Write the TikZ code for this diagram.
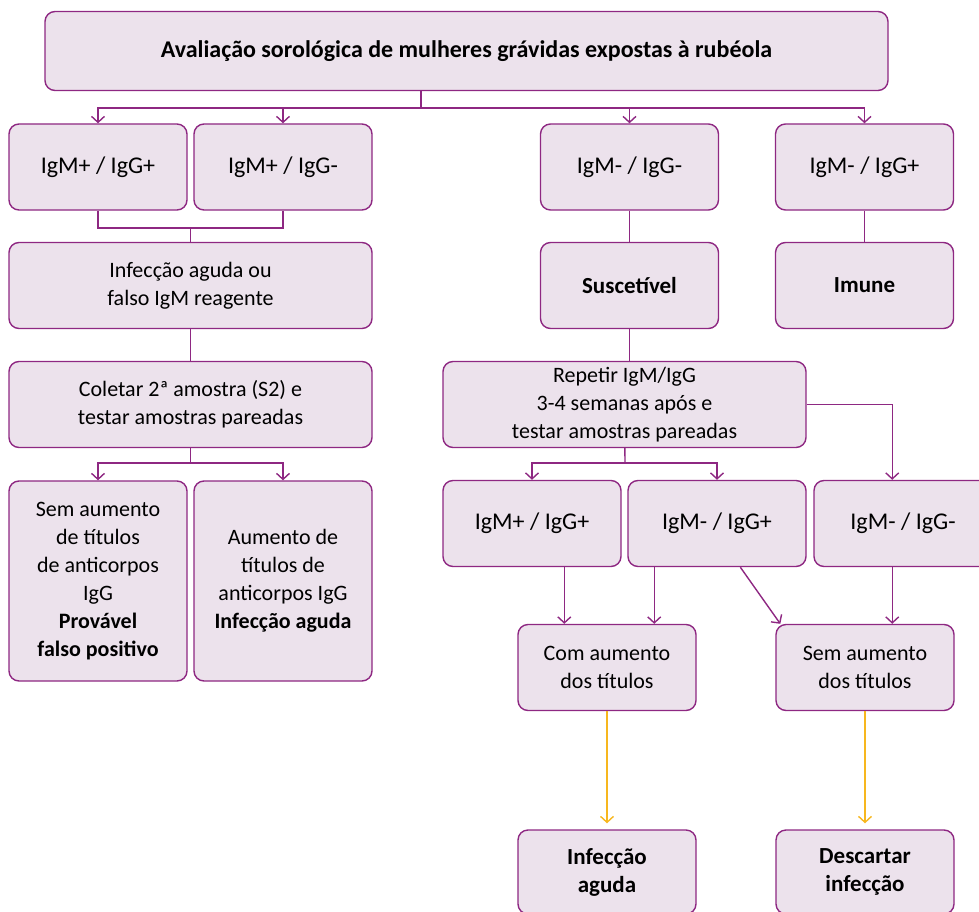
\documentclass[tikz,border=0pt]{standalone}
\usepackage{fontspec}
\setmainfont{Carlito}
\usetikzlibrary{arrows.meta,calc}
\definecolor{roxo}{RGB}{142,40,130}
\definecolor{lilas}{RGB}{236,226,236}
\definecolor{amarelo}{RGB}{247,183,30}

\begin{document}
\begin{tikzpicture}[x=1pt, y=-1pt,
  caixa/.style={draw=roxo, fill=lilas, line width=1.4pt, rounded corners=10pt,
    align=center, inner sep=0pt, font=\fontsize{22}{28}\selectfont},
  pequena/.style={caixa, minimum width=178pt, minimum height=86pt},
  larga/.style={caixa, minimum width=363pt, minimum height=86pt},
  igm/.style={pequena, font=\fontsize{24}{28}\selectfont},
  liga/.style={draw=roxo, line width=1.4pt},
  seta/.style={liga, -{Straight Barb[length=6pt, width=13pt]}},
  setaam/.style={draw=amarelo, line width=1.4pt, -{Straight Barb[length=6pt, width=13pt]}, shorten >=6pt}]
\useasboundingbox (0,0) rectangle (979,912);

% titulo
\node[caixa, minimum width=843pt, minimum height=79pt, font=\fontsize{24}{28}\selectfont\bfseries]
  (topo) at (466.5,51) {Avaliação sorológica de mulheres grávidas expostas à rubéola};

% primeira linha
\node[igm] (a1) at (98,167) {IgM+ / IgG+};
\node[igm] (a2) at (283,167) {IgM+ / IgG-};
\node[igm] (a3) at (629.5,167) {IgM- / IgG-};
\node[igm] (a4) at (864.5,167) {IgM- / IgG+};

\node[larga] (inf) at (190.5,285.5) {Infecção aguda ou\\falso IgM reagente};
\node[pequena, font=\fontsize{23}{28}\selectfont\bfseries] (sus) at (629.5,285.5) {Suscetível};
\node[pequena, font=\fontsize{23}{28}\selectfont\bfseries] (imu) at (864.5,285.5) {Imune};

\node[larga] (col) at (190.5,404.5) {Coletar 2ª amostra (S2) e\\testar amostras pareadas};
\node[larga] (rep) at (624.5,404.5) {Repetir IgM/IgG\\3-4 semanas após e\\testar amostras pareadas};

% resultados pareados
\node[pequena, minimum height=200pt] (b1) at (98,581)
  {Sem aumento\\de títulos\\de anticorpos\\IgG\\\textbf{Provável}\\\textbf{falso positivo}};
\node[pequena, minimum height=200pt] (b2) at (283,581)
  {Aumento de\\títulos de\\anticorpos IgG\\\textbf{Infecção aguda}};

\node[igm] (c1) at (532,523.5) {IgM+ / IgG+};
\node[igm] (c2) at (717,523.5) {IgM- / IgG+};
\node[igm] (c3) at (903,523.5) {IgM- / IgG-};

\node[pequena] (d1) at (607,667.5) {Com aumento\\dos títulos};
\node[pequena] (d2) at (865,667.5) {Sem aumento\\dos títulos};

\node[pequena, minimum height=84pt, font=\fontsize{23}{28}\selectfont\bfseries] (e1) at (607,872) {Infecção\\aguda};
\node[pequena, minimum height=84pt, font=\fontsize{23}{28}\selectfont\bfseries] (e2) at (865,872) {Descartar\\infecção};

% ligacoes
\coordinate (j1) at (421,108);
\draw[liga] (topo.south -| j1) -- (j1);
\foreach \n in {a1,a2,a3,a4}
  \draw[seta] (j1) -| (\n);

\coordinate (j2) at (190.5,228);
\draw[liga] (a1) |- (j2) -| (a2);
\draw[liga] (j2) -- (inf);
\draw[liga] (a3) -- (sus);
\draw[liga] (a4) -- (imu);
\draw[liga] (inf) -- (col);
\draw[liga] (sus) -- (sus |- rep.north);

\coordinate (j3) at (190.5,463);
\draw[liga] (col) -- (j3);
\foreach \n in {b1,b2}
  \draw[seta] (j3) -| (\n);

\coordinate (j4) at (625,463);
\draw[liga] (rep) -- (j4);
\foreach \n in {c1,c2}
  \draw[seta] (j4) -| (\n);

\coordinate (k1) at ($(c1.south west)!.68!(c1.south east)$);
\coordinate (k2) at ($(c2.south west)!.15!(c2.south east)$);
\coordinate (k3) at ($(c3.north west)!.44!(c3.north east)$);
\coordinate (k4) at ($(c2.south west)!.63!(c2.south east)$);
\draw[seta] (rep) -| (k3);
\draw[seta] (k1) -- (k1 |- d1.north);
\draw[seta] (k2) -- (k2 |- d1.north);
\draw[seta] (k4) -- ($(d2.north west)+(5,0)$);
\draw[seta] (k3 |- c3.south) -- (k3 |- d2.north);

\draw[setaam] (d1) -- (e1);
\draw[setaam] (d2) -- (e2);
\end{tikzpicture}
\end{document}
